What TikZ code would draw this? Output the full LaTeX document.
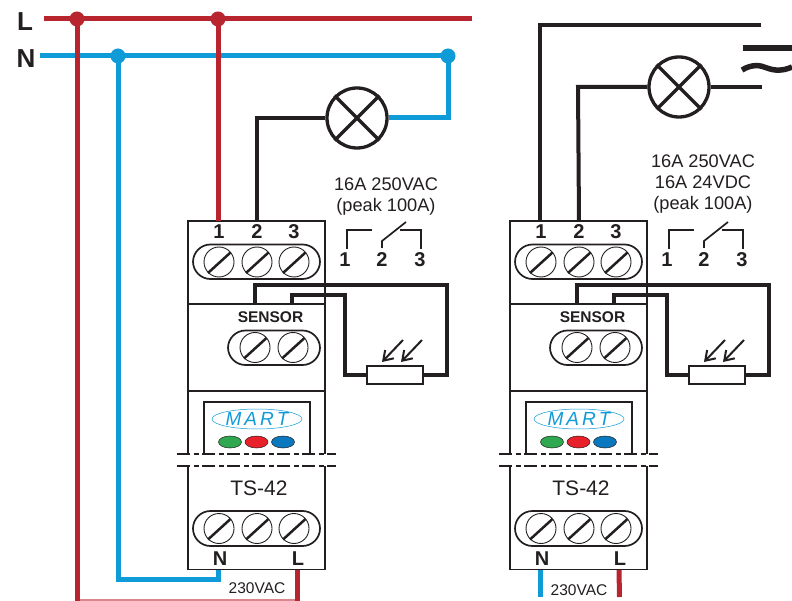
\documentclass[tikz,border=0pt]{standalone}
\usepackage{fontspec}
\setmainfont{Liberation Sans}
\usetikzlibrary{arrows.meta}
\definecolor{wred}{HTML}{B9252F}
\definecolor{wblue}{HTML}{0F9BD7}
\definecolor{ledg}{HTML}{2FA84F}
\definecolor{ledr}{HTML}{E8202A}
\definecolor{ledb}{HTML}{0A78BE}
\definecolor{txt}{HTML}{231F20}
\newcommand{\fsz}[1]{\fontsize{#1}{#1}\selectfont}
\tikzset{
 x=1pt,y=-1pt,
 box/.style={draw=txt,line width=1.5pt},
 pill/.style={draw=txt,line width=1.7pt,rounded corners=17.5pt},
 screw/.style={circle,draw=txt,line width=.9pt,minimum size=30pt,inner sep=0pt},
 slash/.style={draw=txt,line width=2.5pt},
 brk/.style={draw=txt,line width=2.4pt,dash pattern=on 13pt off 3.5pt on 5pt off 3.5pt},
 redw/.style={draw=wred,line width=5pt},
 bluew/.style={draw=wblue,line width=5pt},
 blackw/.style={draw=txt,line width=4pt},
 thinw/.style={draw=txt,line width=3.2pt},
 dot/.style={circle,minimum size=15pt,inner sep=0pt},
 lamp/.style={circle,draw=txt,line width=3.3pt,minimum size=60pt,inner sep=0pt},
 pinlab/.style={font=\bfseries\fsz{20},text=txt,inner sep=0pt,anchor=center},
 lab/.style={text=txt,inner sep=0pt,anchor=center},
 relayw/.style={draw=txt,line width=1.7pt},
 photo/.style={draw=txt,line width=2pt,-{Straight Barb[length=9pt,width=12pt]}},
}
\newcommand{\scr}[3]{% name,x,y
 \node[screw] (#1) at (#2,#3) {};
 \draw[slash] (#2-11,#3+11) -- (#2+11.5,#3-9.5);
}
\newcommand{\modul}[2]{% prefix, xshift
\begin{scope}[xshift=#2pt]
 % body
 \draw[box] (188,454) -- (188,221) -- (325,221) -- (325,454);
 \draw[box] (188,466) -- (188,569.5) -- (325,569.5) -- (325,466);
 \draw[draw=txt,line width=1.1pt] (188,304) -- (325,304);
 \draw[draw=txt,line width=1.1pt] (188,391) -- (325,391);
 \coordinate (#1p1) at (218,221); \coordinate (#1p2) at (257,221);
 \coordinate (#1s1) at (255,304); \coordinate (#1s2) at (292,304);
 \coordinate (#1pN) at (218,570); \coordinate (#1pL) at (297,570);
 % top terminal
 \node[pinlab] (#1l1) at (219,232) {1};
 \node[pinlab] (#1l2) at (257,232) {2};
 \node[pinlab] (#1l3) at (294,232) {3};
 \draw[pill] (193,244.5) rectangle (320,279);
 \scr{#1a1}{219}{262}\scr{#1a2}{257}{262}\scr{#1a3}{294}{262}
 % sensor
 \node[lab,font=\bfseries\fsz{15.5}] (#1sen) at (270.5,317) {SENSOR};
 \draw[pill] (228,330.5) rectangle (320,365);
 \scr{#1b1}{255}{347.5}\scr{#1b2}{293}{347.5}
 % window
 \draw[box] (204,454) -- (204,402) -- (310,402) -- (310,454);
 \draw[draw=wblue,line width=.5pt] (257,419) ellipse [x radius=45,y radius=10];
 \node[lab,text=wblue,font=\itshape\fsz{19}] (#1mart) at (257,419) {M\kern3pt A\kern3pt R\kern3pt T};
 \path[fill=ledg,draw=txt,line width=.5pt] (230,442) ellipse [x radius=11.5,y radius=6];
 \path[fill=ledr,draw=txt,line width=.5pt] (256.5,442) ellipse [x radius=11.5,y radius=6];
 \path[fill=ledb,draw=txt,line width=.5pt] (283,442) ellipse [x radius=11.5,y radius=6];
 % break
 \draw[brk] (177,454) -- (336,454);
 \draw[brk] (177,466) -- (336,466);
 \node[lab,font=\fsz{21}] (#1ts) at (259,488) {TS-42};
 % bottom terminal
 \draw[pill] (193,511) rectangle (320,546);
 \scr{#1c1}{219}{528.5}\scr{#1c2}{257}{528.5}\scr{#1c3}{294}{528.5}
 \node[pinlab] (#1lN) at (220,559) {N};
 \node[pinlab] (#1lL) at (298,559) {L};
 % photoresistor
 \node[draw=txt,line width=1.8pt,fill=white,minimum width=56pt,minimum height=18pt,inner sep=0pt] (#1res) at (395,375) {};
 \coordinate (#1ar1s) at (403,340); \coordinate (#1ar1e) at (382,362);
 \coordinate (#1ar2s) at (422,340); \coordinate (#1ar2e) at (401,362);
 \draw[photo] (#1ar1s) -- (#1ar1e);
 \draw[photo] (#1ar2s) -- (#1ar2e);
 \draw[thinw,line join=miter] (#1s1) -- (255,285) -- (447,285) -- (447,375) -- (#1res.east);
 \draw[thinw,line join=miter] (#1s2) -- (292,295) -- (345,295) -- (345,375) -- (#1res.west);
 % relay symbol
 \draw[relayw] (347,249) -- (347,230) -- (372,230);
 \draw[relayw] (382,248) -- (382,241) -- (406,222);
 \draw[relayw] (400,230) -- (421,230) -- (421,249);
 \node[pinlab] (#1r1) at (345,260) {1};
 \node[pinlab] (#1r2) at (382,260) {2};
 \node[pinlab] (#1r3) at (420,260) {3};
\end{scope}
}
\begin{document}
\begin{tikzpicture}
\useasboundingbox (0,0) rectangle (792,601);
\fill[white] (0,0) rectangle (792,601);

% mains labels
\node[lab,font=\bfseries\fsz{26}] (L) at (25,22) {L};
\node[lab,font=\bfseries\fsz{26}] (N) at (26,59) {N};
\coordinate (Ls) at (44,19); \coordinate (Le) at (472,19);
\coordinate (Ns) at (40,56);
\node[dot,fill=wred] (j1) at (77,19) {};
\node[dot,fill=wred] (j2) at (218,19) {};
\node[dot,fill=wblue] (j3) at (118,56) {};
\node[dot,fill=wblue] (j4) at (448,56) {};

\modul{m}{0}
\modul{r}{322}

% left wiring
\draw[draw=wred!55!white,line width=1.6pt] (77,600) -- (297,600);
\coordinate (Rb) at (77,601); \coordinate (Lb) at (297,601);
\draw[bluew] (Ns) -- (j4.center);
\draw[redw] (Ls) -- (Le);
\draw[redw] (j1.center) -- (Rb);
\draw[redw] (j2.center) -- (mp1);
\draw[bluew,line join=miter] (j3.center) -- (118,579) -- (218,579) -- (mpN);
\draw[redw] (mpL) -- (Lb);
\node[lab,font=\fsz{15.5}] (v1) at (257,588) {230VAC};

% left lamp
\node[lamp] (la) at (357,118) {};
\draw[draw=txt,line width=3.3pt] (la.north west) -- (la.south east);
\draw[draw=txt,line width=3.3pt] (la.north east) -- (la.south west);
\draw[bluew,line join=miter] (j4.center) -- (448,118) -- (la.east);
\draw[blackw,line join=miter] (la.west) -- (257,118) -- (mp2);
\node[lab,font=\fsz{18.2},align=center] (t1) at (386,196.5) {16A 250VAC\\[2.8pt](peak 100A)};

% right wiring
\node[lamp] (lb) at (679,87) {};
\draw[draw=txt,line width=3.3pt] (lb.north west) -- (lb.south east);
\draw[draw=txt,line width=3.3pt] (lb.north east) -- (lb.south west);
\coordinate (e1) at (761,25); \coordinate (e2) at (762,87);
\draw[blackw,line join=miter] (rp1) -- (540,25) -- (e1);
\draw[blackw,line join=miter] (rp2) -- (578,87) -- (lb.west);
\draw[blackw] (lb.east) -- (e2);
\draw[draw=txt,line width=5.5pt] (743,48) -- (792,48);
\draw[draw=txt,line width=5.5pt] (742,70) .. controls (752,64) and (760,65) .. (767,68) .. controls (775,71) and (783,71) .. (792,67);
\coordinate (rNb) at (540,597); \coordinate (rLb) at (619.5,597);
\draw[bluew] (rpN) -- (rNb);
\draw[redw] (rpL) -- (rLb);
\node[lab,font=\fsz{15.5}] (v2) at (579,590) {230VAC};
\node[lab,font=\fsz{18.2},align=center] (t2) at (703,184) {16A 250VAC\\[2.8pt]16A 24VDC\\[2.8pt](peak 100A)};
\end{tikzpicture}
\end{document}
